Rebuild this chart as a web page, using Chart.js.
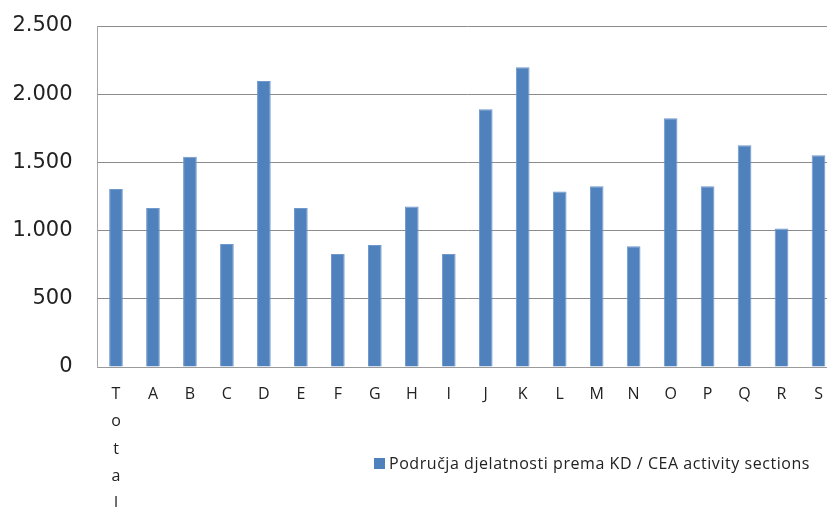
<!DOCTYPE html>
<html>
<head>
<meta charset="utf-8">
<script src="https://cdn.jsdelivr.net/npm/chart.js@4"></script>
<style>
  html, body { margin: 0; padding: 0; background: #fff; overflow: hidden; }
  #wrap { width: 837px; height: 507px; }
</style>
</head>
<body>
<div id="wrap"><canvas id="bar-chart" width="837" height="507"></canvas></div>
<script>
var sections = ['Total', 'A', 'B', 'C', 'D', 'E', 'F', 'G', 'H', 'I', 'J', 'K', 'L', 'M', 'N', 'O', 'P', 'Q', 'R', 'S'];
var values = [1305, 1165, 1542, 902, 2096, 1165, 829, 895, 1177, 829, 1889, 2198, 1287, 1326, 885, 1823, 1326, 1626, 1016, 1553];
var seriesLabel = 'Područja djelatnosti prema KD / CEA activity sections';
var yTicks = [0, 500, 1000, 1500, 2000, 2500];

function thousands(v)
{
  return String(v).replace(/\B(?=(\d{3})+(?!\d))/g, '.');
}

// legend sits beside the tall "Total" label, so draw it by hand
var sideLegend = {
  id: 'sideLegend',
  afterDraw: function(chart) {
    var ctx = chart.ctx;
    var ds = chart.data.datasets[0];
    ctx.save();
    ctx.fillStyle = ds.backgroundColor;
    ctx.fillRect(374, 458, 11, 11);
    ctx.fillStyle = '#222';
    ctx.font = '16px "Open Sans"';
    ctx.letterSpacing = '0.55px';
    ctx.textBaseline = 'middle';
    ctx.fillText(ds.label, 389, 464);
    ctx.restore();
  }
};

var myChart = new Chart(document.getElementById('bar-chart'), {
  type: 'bar',
  data: {
    labels: sections,
    datasets: [{
      data: values,
      label: seriesLabel,
      backgroundColor: '#4F81BD',
      borderColor: '#6f98cc',
      borderWidth: 1,
      barPercentage: 0.37,
      categoryPercentage: 1.0
    }]
  },
  options: {
    responsive: false,
    animation: false,
    devicePixelRatio: 1,
    layout: { padding: { top: 26, left: 0, right: 0, bottom: 0 } },
    plugins: {
      legend: { display: false },
      tooltip: { enabled: false }
    },
    scales: {
      x: {
        grid: { display: false, drawTicks: false },
        border: { display: true, color: '#9a9a9a', width: 1 },
        ticks: {
          autoSkip: false,
          maxRotation: 0,
          padding: 14,
          color: '#222',
          font: { family: 'Open Sans', size: 16, lineHeight: 1.7 },
          callback: function(v) {
            var l = this.getLabelForValue(v);
            return l.length > 1 ? l.split('') : l;
          }
        },
        afterFit: function(scale) { scale.height = 140; }
      },
      y: {
        min: 0,
        max: 2500,
        afterBuildTicks: function(scale) {
          scale.ticks = yTicks.map(function(v) { return { value: v }; });
        },
        grid: { color: '#8c8c8c', lineWidth: 1, drawTicks: false },
        border: { display: true, color: '#a6a6a6', width: 1 },
        ticks: {
          padding: 25,
          color: '#222',
          font: { family: 'DejaVu Sans', size: 21 },
          callback: function(v) { return thousands(v); }
        },
        afterFit: function(scale) {
          scale.width = 97.5;
          scale.paddingTop = 0;
          scale.paddingBottom = 0;
        }
      }
    }
  },
  plugins: [sideLegend]
});
</script>
</body>
</html>
